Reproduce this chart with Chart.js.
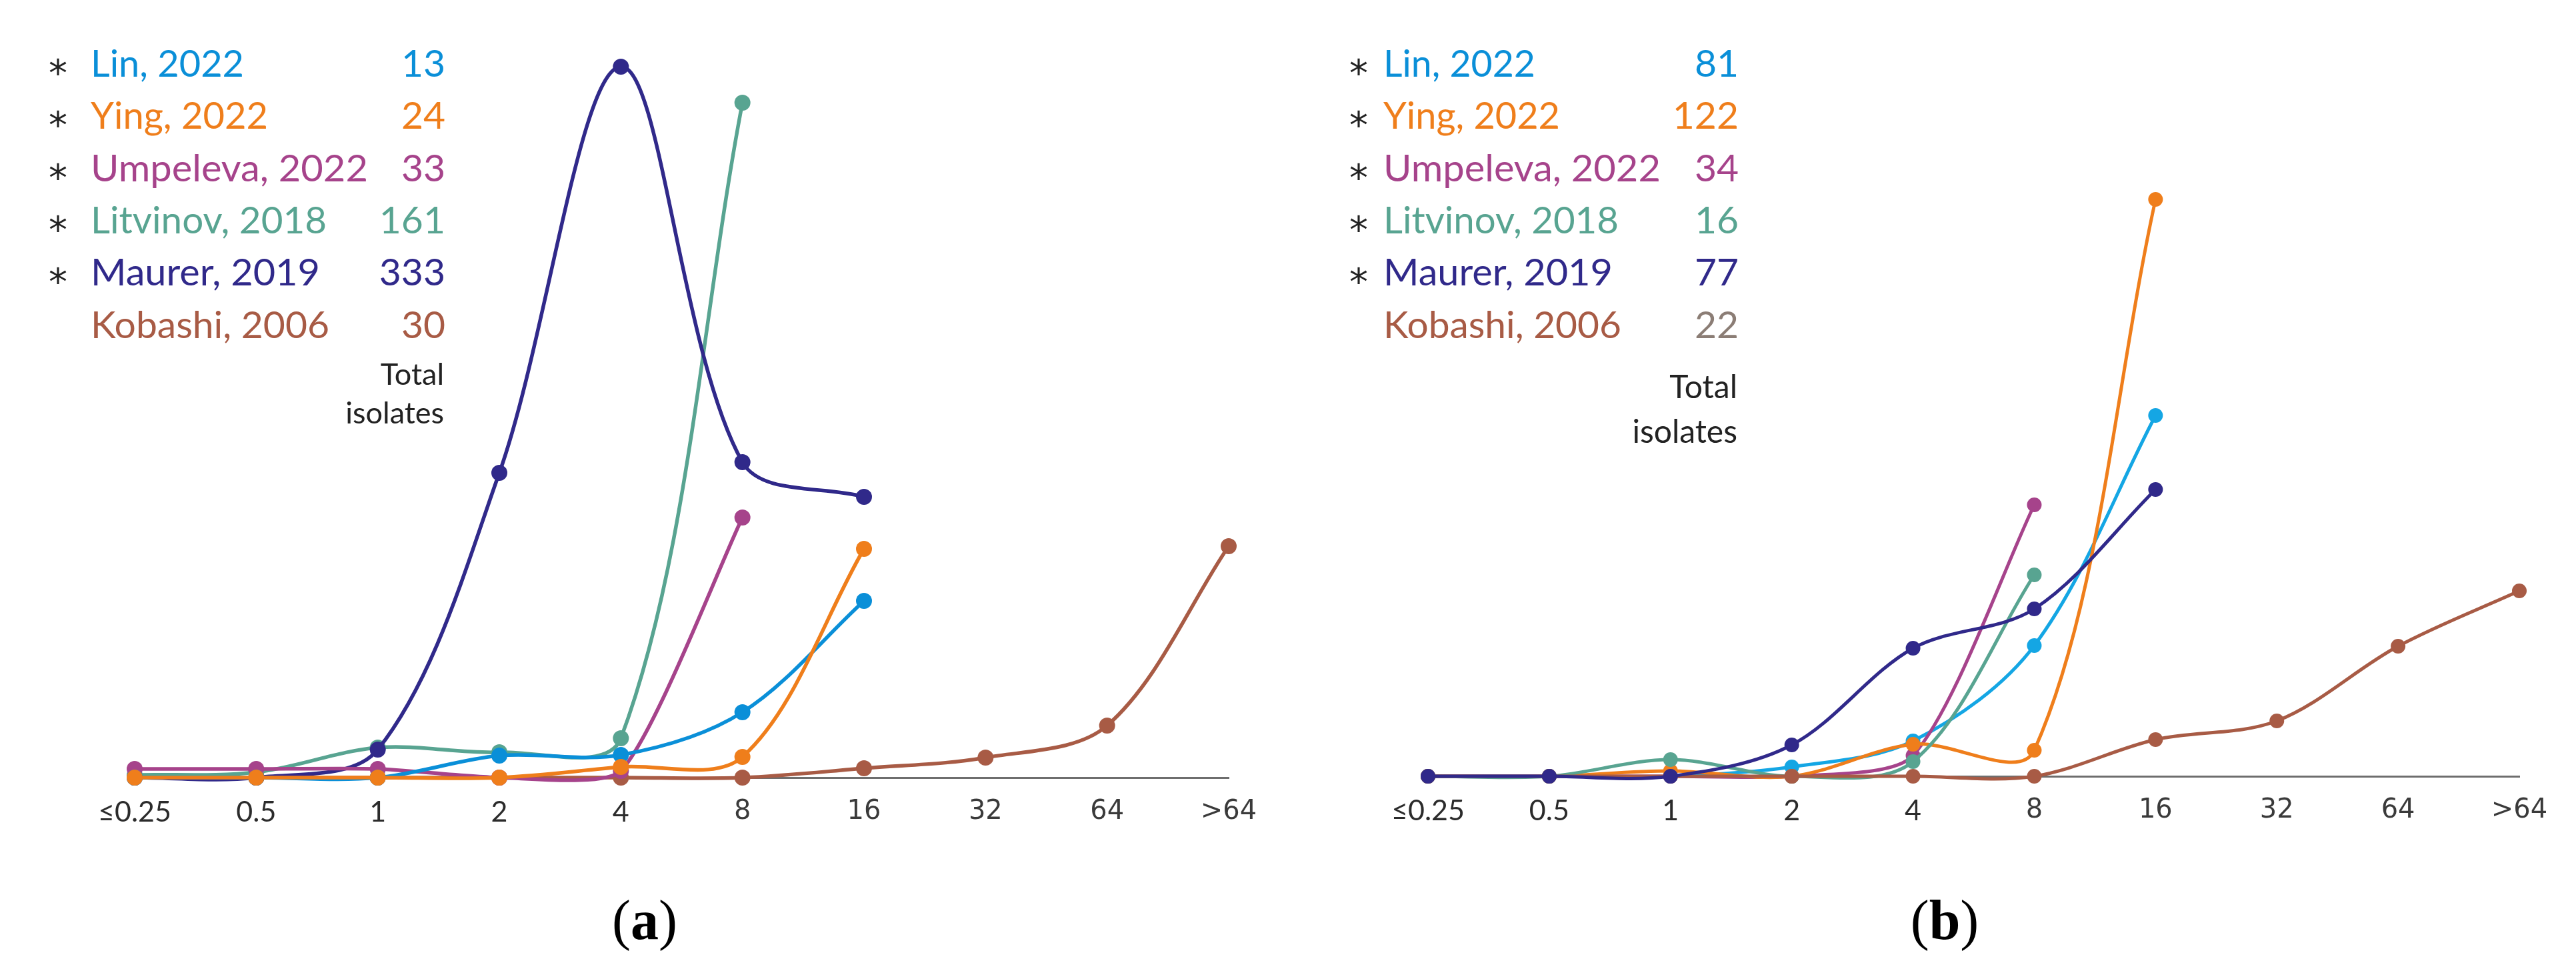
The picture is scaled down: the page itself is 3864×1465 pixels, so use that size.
<!DOCTYPE html>
<html><head><meta charset="utf-8">
<script src="https://cdn.jsdelivr.net/npm/chart.js@4.4.0/dist/chart.umd.min.js"></script>
<style>
html,body{margin:0;padding:0;background:#fff;}
#wrap{position:relative;width:3864px;height:1465px;overflow:hidden;background:#fff;}
canvas{position:absolute;top:0;}
#ov{position:absolute;left:0;top:0;pointer-events:none;}
</style></head><body>
<div id="wrap">
<canvas id="ca" width="1932" height="1465" style="left:0;width:1932px;height:1465px"></canvas>
<canvas id="cb" width="1932" height="1465" style="left:1932px;width:1932px;height:1465px"></canvas>
<svg id="ov" xmlns="http://www.w3.org/2000/svg" width="3864" height="1465"></svg>
</div>
<script>
// ---- data ----
const categories = ['≤0.25','0.5','1','2','4','8','16','32','64','>64'];
const studies = ['Lin, 2022','Ying, 2022','Umpeleva, 2022','Litvinov, 2018','Maurer, 2019','Kobashi, 2006'];
const starred = [true,true,true,true,true,false];
const totalsA = ['13','24','33','161','333','30'];
const totalsB = ['81','122','34','16','77','22'];
const totalLabel = ['Total','isolates'];
const panelLabels = ['a','b'];

// panel (a) – relative heights (no y axis shown)
const linA      = [0, 0, 0, 3.3, 3.4, 9.8, 26.5, null, null, null];
const yingA     = [0, 0, 0, 0, 1.6, 3.1, 34.3, null, null, null];
const umpelevaA = [1.3, 1.3, 1.3, 0, 1.0, 39.0, null, null, null, null];
const litvinovA = [0.4, 0.8, 4.5, 3.8, 5.9, 101.2, null, null, null, null];
const maurerA   = [0, 0, 4.2, 45.7, 106.6, 47.3, 42.1, null, null, null];
const kobashiA  = [0, 0, 0, 0, 0, 0, 1.4, 3.0, 7.8, 34.7];

// panel (b)
const linB      = [0, 0, 0, 1.4, 5.3, 19.6, 54.1, null, null, null];
const yingB     = [0, 0, 0.8, 0, 4.8, 3.9, 86.5, null, null, null];
const umpelevaB = [0, 0, 0, 0, 3.1, 40.7, null, null, null, null];
const litvinovB = [0, 0, 2.5, 0, 2.2, 30.2, null, null, null, null];
const maurerB   = [0, 0, 0, 4.7, 19.2, 25.1, 43.0, null, null, null];
const kobashiB  = [0, 0, 0, 0, 0, 0, 5.5, 8.3, 19.5, 27.8];

// ---- styles ----
const colorsA = ['#0a8fd8','#ef7e1b','#a6438b','#58a491','#30298a','#a85b45'];
const colorsB = ['#14a6e4','#ef7e1b','#a6438b','#58a491','#30298a','#a85b45'];
const textColorsA = colorsA;
const textColorsB = ['#0a8fd8','#ef7e1b','#a6438b','#58a491','#30298a','#a85b45'];
const numColorsB = ['#0a8fd8','#ef7e1b','#a6438b','#58a491','#30298a','#8b7d75'];
const ordersA = [1,0,2,4,3,5];
const ordersB = [5,3,4,2,0,1];
const tensionsA = [0.33, 0.33, 0.2, 0.33, 0.33, 0.33];
const tensionsB = [0.33, 0.33, 0.25, 0.33, 0.33, 0.33];

function build(id, series, colors, orders, tensions, pad, lw, pr) {
  const datasets = series.map((d,i)=>({
    label: studies[i], data: d,
    borderColor: colors[i], backgroundColor: colors[i],
    pointBackgroundColor: colors[i], pointBorderColor: colors[i],
    pointBorderWidth: 0, pointRadius: pr, borderWidth: lw,
    tension: tensions[i], order: orders[i], clip: false, spanGaps: false
  }));
  const fontL = {family: 'Lato', size: 43, lineHeight: '40px'};
  const fontR = {family: 'DejaVu Sans', size: 40, lineHeight: '40px'};
  return new Chart(document.getElementById(id), {
    type: 'line',
    data: {labels: categories, datasets},
    options: {
      responsive: false, animation: false, devicePixelRatio: 1,
      layout: {padding: pad},
      plugins: {legend: {display: false}, tooltip: {enabled: false}},
      elements: {line: {capBezierPoints: false}},
      scales: {
        x: {
          offset: false,
          grid: {display: false},
          border: {display: true, color: '#6e6e6e', width: 3},
          afterFit: s => { s.height = 100; },
          ticks: {
            autoSkip: false, maxRotation: 0, minRotation: 0, padding: 24,
            color: c => c.index < 5 ? '#2b2b2b' : '#3a3a3a',
            font: c => c.index < 5 ? fontL : fontR
          }
        },
        y: {display: false, min: 0, max: 110}
      }
    }
  });
}

build('ca', [linA, yingA, umpelevaA, litvinovA, maurerA, kobashiA], colorsA, ordersA, tensionsA,
      {left: 202, right: 89, top: 66, bottom: 199}, 5.5, 12);
build('cb', [linB, yingB, umpelevaB, litvinovB, maurerB, kobashiB], colorsB, ordersB, tensionsB,
      {left: 210, right: 85, top: 64, bottom: 201}, 5, 11);

// ---- text overlay (legend tables and panel labels) ----
const NS = 'http://www.w3.org/2000/svg';
const svg = document.getElementById('ov');
function txt(s, x, y, opt) {
  const t = document.createElementNS(NS, 'text');
  t.setAttribute('x', x); t.setAttribute('y', y);
  t.setAttribute('font-family', opt.family || 'Lato');
  t.setAttribute('font-size', opt.size);
  t.setAttribute('fill', opt.color || '#222');
  if (opt.anchor) t.setAttribute('text-anchor', opt.anchor);
  if (opt.weight) t.setAttribute('font-weight', opt.weight);
  if (opt.len) { t.setAttribute('textLength', opt.len); t.setAttribute('lengthAdjust', 'spacingAndGlyphs'); }
  t.textContent = s;
  svg.appendChild(t);
  return t;
}
const nameLenA = [230, 266, 416, 354, 344, 358];
const nameLenB = [228, 265, 416, 353, 344, 357];
function legend(o) {
  for (let i = 0; i < studies.length; i++) {
    const by = 115 + 78.3 * i;
    if (starred[i]) txt('*', o.starX, by + 14, {family: 'DejaVu Sans', size: 56, anchor: 'middle', color: '#222'});
    txt(studies[i], o.nameX, by, {size: 57, color: o.textColors[i], len: o.nameLen[i]});
    txt(o.totals[i], o.numX, by, {size: 57, color: o.numColors[i], anchor: 'end'});
  }
  txt(totalLabel[0], o.numX - 2, o.totalY, {size: o.totalSize, color: '#222', anchor: 'end'});
  txt(totalLabel[1], o.numX - 2, o.totalY + o.totalGap, {size: o.totalSize, color: '#222', anchor: 'end'});
}
legend({starX: 87, nameX: 136, numX: 668, totals: totalsA, textColors: textColorsA, numColors: colorsA,
        nameLen: nameLenA, totalY: 577, totalGap: 58, totalSize: 45});
legend({starX: 2038, nameX: 2075, numX: 2608, totals: totalsB, textColors: textColorsB, numColors: numColorsB,
        nameLen: nameLenB, totalY: 597, totalGap: 67, totalSize: 48});

function panelLabel(letter, x) {
  const t = document.createElementNS(NS, 'text');
  t.setAttribute('x', x); t.setAttribute('y', 1408);
  t.setAttribute('font-family', 'Liberation Serif');
  t.setAttribute('font-size', 84);
  t.setAttribute('fill', '#000');
  t.setAttribute('text-anchor', 'middle');
  const a = document.createElementNS(NS, 'tspan'); a.textContent = '(';
  const b = document.createElementNS(NS, 'tspan'); b.textContent = letter; b.setAttribute('font-weight', 'bold');
  const c = document.createElementNS(NS, 'tspan'); c.textContent = ')';
  t.appendChild(a); t.appendChild(b); t.appendChild(c);
  svg.appendChild(t);
}
panelLabel(panelLabels[0], 967);
panelLabel(panelLabels[1], 2917);
</script>
</body></html>
